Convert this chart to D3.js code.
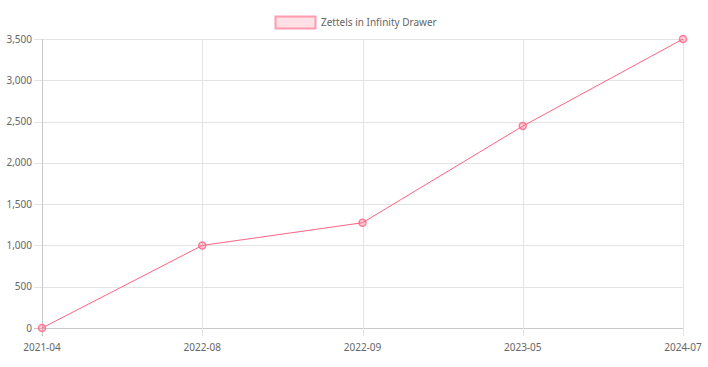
<!DOCTYPE html>
<html>
<head>
<meta charset="utf-8">
<script src="https://d3js.org/d3.v7.min.js"></script>
<style>
  body { margin: 0; background: #fff; }
  text { font-family: "Noto Sans", "Open Sans", sans-serif; fill: #666; }
</style>
</head>
<body>
<svg id="chart" width="708" height="367"></svg>
<script>
const months = ["2021-04", "2022-08", "2022-09", "2023-05", "2024-07"]
const zettels = [0, 1000, 1275, 2445, 3500]
const yTicks = [0, 500, 1000, 1500, 2000, 2500, 3000, 3500]
const seriesName = "Zettels in Infinity Drawer"

const svg = d3.select("#chart")
const plotL = 42, plotR = 683, plotT = 39, plotB = 328

const x = d3.scalePoint().domain(months).range([plotL, plotR])
const y = d3.scaleLinear().domain([0, 3500]).range([plotB, plotT])

// grid
const grid = svg.append("g")
yTicks.forEach(t => {
  grid.append("line")
    .attr("x1", plotL - 8).attr("x2", plotR)
    .attr("y1", Math.round(y(t)) + 0.5).attr("y2", Math.round(y(t)) + 0.5)
    .attr("stroke", t === 0 ? "#c8c8c8" : "#e3e3e3").attr("stroke-width", 1)
})
months.forEach((m, i) => {
  grid.append("line")
    .attr("x1", Math.round(x(m)) + 0.5).attr("x2", Math.round(x(m)) + 0.5)
    .attr("y1", plotT).attr("y2", plotB + 8)
    .attr("stroke", i === 0 ? "#c8c8c8" : "#e3e3e3").attr("stroke-width", 1)
})

// y labels
svg.append("g").selectAll("text").data(yTicks).join("text")
  .attr("x", plotL - 10).attr("y", d => y(d)).attr("dy", "0.35em")
  .attr("text-anchor", "end").attr("font-size", 10)
  .text(d => d3.format(",")(d))

// x labels
svg.append("g").selectAll("text").data(months).join("text")
  .attr("x", d => x(d)).attr("y", 347).attr("dy", "0.35em")
  .attr("text-anchor", "middle")
  .attr("font-size", 10)
  .text(d => d)

// line
const line = d3.line().x((d, i) => x(months[i])).y(d => y(d))
svg.append("path").datum(zettels)
  .attr("d", line).attr("fill", "none")
  .attr("stroke", "rgb(255,99,132)").attr("stroke-width", 1)

svg.append("g").selectAll("circle").data(zettels).join("circle")
  .attr("cx", (d, i) => x(months[i])).attr("cy", d => y(d)).attr("r", 3.5)
  .attr("fill", "rgba(255,99,132,0.3)").attr("stroke", "rgba(255,99,132,0.8)").attr("stroke-width", 1.5)

// legend
const lg = svg.append("g")
lg.append("rect").attr("x", 275.5).attr("y", 16.5).attr("width", 40).attr("height", 12)
  .attr("fill", "rgba(255,99,132,0.2)").attr("stroke", "rgba(255,99,132,0.6)").attr("stroke-width", 2)
lg.append("text").attr("x", 321).attr("y", 22.5).attr("dy", "0.35em")
  .attr("font-size", 10).text(seriesName)
</script>
</body>
</html>
